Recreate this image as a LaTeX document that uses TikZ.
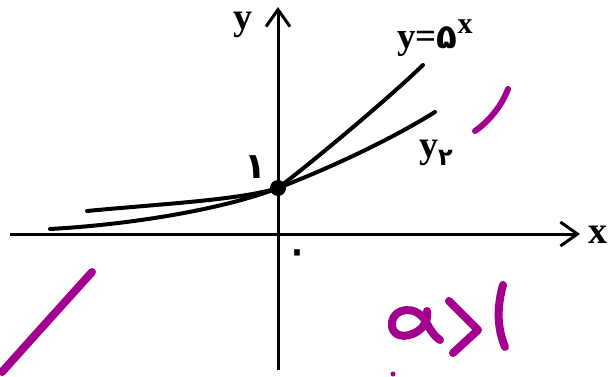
\documentclass[tikz,border=0pt]{standalone}
\usepackage{fontspec}
\setmainfont{Liberation Serif}
\newfontfamily\fa[Script=Arabic]{DejaVu Sans}
\usetikzlibrary{arrows.meta}
\definecolor{ink}{RGB}{163,0,143}
\begin{document}
\begin{tikzpicture}[x=1pt,y=-1pt,
 axis/.style={line width=3pt, -{Straight Barb[length=17pt,width=24pt,line width=3pt]}},
 curve/.style={line width=4pt, line cap=round},
 lbl/.style={inner sep=0pt, anchor=base, font=\fontsize{38}{38}\selectfont\bfseries},
 pen/.style={draw=ink, line width=8pt, line cap=round, line join=round}]
\useasboundingbox (0,0) rectangle (615,376);
% axes
\coordinate (xs) at (10,234); \coordinate (xe) at (580,234);
\coordinate (ys) at (278,370); \coordinate (ye) at (278,7);
\draw[axis] (xs) -- (xe);
\draw[axis] (ys) -- (ye);
% curves
\draw[curve] (50,229) .. controls (140,224) and (230,207) .. (278,188)
             .. controls (315,160) and (390,97) .. (423,65);
\draw[curve] (87,211) .. controls (160,204) and (240,200) .. (278,188)
             .. controls (330,168) and (390,140) .. (435,112);
\node[circle, fill=black, inner sep=0pt, minimum size=16pt] (p) at (278,188) {};
% labels
\node[lbl, text height=18pt, text depth=8pt] (ylab) at (243,29) {y};
\node[lbl] (xlab) at (598,243) {x};
\node[lbl, anchor=base west, font=\fontsize{37}{37}\selectfont\bfseries] (f1) at (397,48) {y=\fa\fontsize{34}{34}\selectfont ۵\raisebox{15pt}{\rmfamily\fontsize{30}{30}\selectfont\bfseries x}};
\node[lbl, anchor=base west] (f2) at (419,157) {y\raisebox{-8pt}{\fa\fontsize{24}{24}\selectfont\bfseries ۲}};
\node[lbl, font=\fa\fontsize{36}{36}\selectfont\bfseries] (one) at (255,178) {۱};
\node[inner sep=0pt, font=\fa\fontsize{52}{52}\selectfont] (zero) at (297,259) {۰};
% handwriting
\draw[pen] (2,372) .. controls (35,335) and (65,302) .. (92,272);
\draw[pen, line width=6pt] (475,131) .. controls (485,124) and (500,110) .. (508,89);
\draw[pen] (427,311) .. controls (428,320) and (425,326) .. (418,331) .. controls (405,340) and (390,336) .. (392,322) .. controls (394,308) and (415,305) .. (425,320) .. controls (430,330) and (435,337) .. (440,340);
\draw[pen] (449,301) -- (478,330) -- (453,353);
\draw[pen] (503,285) .. controls (496,310) and (498,330) .. (505,347);
\fill[ink] (393,374) circle (2.5pt);
\end{tikzpicture}
\end{document}
